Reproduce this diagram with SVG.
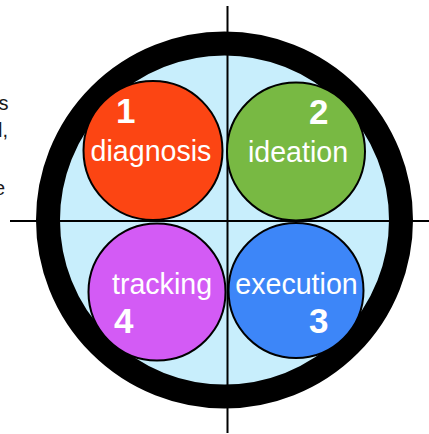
<svg xmlns="http://www.w3.org/2000/svg" width="429" height="434" viewBox="0 0 429 434">
<style>
.lbl{font-family:"Liberation Sans",Arial,sans-serif;fill:#fff;font-size:28.6px}
.num{font-family:"Liberation Sans",Arial,sans-serif;fill:#fff;font-size:35px;font-weight:bold}
.side{font-family:"Liberation Sans",Arial,sans-serif;fill:#1a1a1a;font-size:20px}
.node{stroke:#000;stroke-width:2}
</style>
<rect width="429" height="434" fill="#fff"/>
<g id="side-text">
<text class="side" x="8.5" y="110" text-anchor="end">s</text>
<text class="side" x="8" y="137" text-anchor="end">l,</text>
<text class="side" x="5" y="195" text-anchor="end">e</text>
</g>
<g id="disc">
<circle cx="224.5" cy="220" r="176.5" fill="#c8eefc" stroke="#000" stroke-width="24"/>
</g>
<g id="connectors" stroke="#000" stroke-width="2">
<line x1="227.5" y1="6" x2="227.5" y2="433"/>
<line x1="10" y1="221" x2="429" y2="221"/>
</g>
<g id="diagnosis">
<circle class="node" cx="153" cy="150.5" r="69.5" fill="#fc4513"/>
<text class="num" x="116" y="123">1</text>
<text class="lbl" x="151" y="161" text-anchor="middle">diagnosis</text>
</g>
<g id="ideation">
<circle class="node" cx="296" cy="151.5" r="69" fill="#78b943"/>
<text class="num" x="309" y="124">2</text>
<text class="lbl" x="298" y="162" text-anchor="middle">ideation</text>
</g>
<g id="tracking">
<circle class="node" cx="157" cy="292" r="68.5" fill="#d35bf5"/>
<text class="lbl" x="162" y="294" text-anchor="middle">tracking</text>
<text class="num" x="114" y="333">4</text>
</g>
<g id="execution">
<circle class="node" cx="296" cy="290.5" r="67.5" fill="#3d86f8"/>
<text class="lbl" x="296.5" y="294" text-anchor="middle">execution</text>
<text class="num" x="309" y="333">3</text>
</g>
</svg>
